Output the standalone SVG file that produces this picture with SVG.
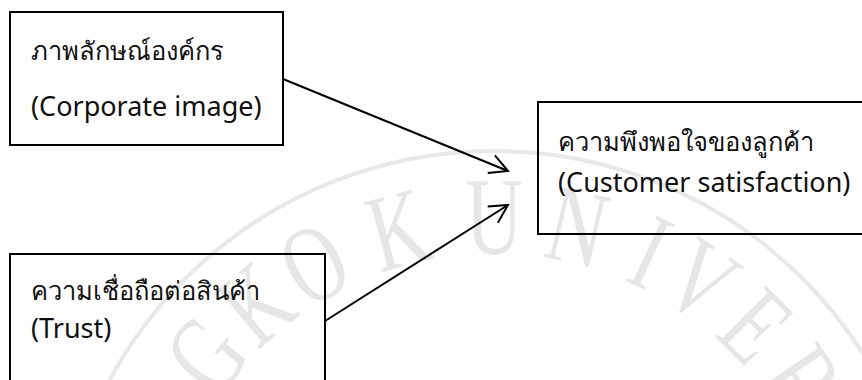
<svg xmlns="http://www.w3.org/2000/svg" width="862" height="380" viewBox="0 0 862 380">
  <style>
    .box { fill: none; stroke: #000; stroke-width: 2; }
    .th { font-family: "Noto Sans", "Open Sans", "DejaVu Sans", sans-serif; font-size: 25.5px; fill: #111; }
    .en { font-family: "Noto Sans", "Open Sans", "DejaVu Sans", sans-serif; font-size: 27px; fill: #111; }
    .wm { font-family: "Liberation Serif", serif; font-size: 110px; fill: #e6e6e6; text-anchor: middle; }
    .conn { fill: none; stroke: #000; stroke-width: 2; }
  </style>
  <defs>
    <marker id="arr" viewBox="-22 -12 24 24" refX="0" refY="0" markerWidth="24" markerHeight="24" markerUnits="userSpaceOnUse" orient="auto">
      <path d="M-18,-9.5 L0,0 L-18,9.5" fill="none" stroke="#000" stroke-width="2"/>
    </marker>
  </defs>
  <rect width="862" height="380" fill="#fff"/>
  <g id="watermark">
    <circle cx="494" cy="588" r="437" fill="none" stroke="#e8e8e8" stroke-width="4"/>
    <g transform="rotate(-51 494 588)"><text class="wm" transform="translate(494 254) scale(0.72 1)">G</text></g>
    <g transform="rotate(-40 494 588)"><text class="wm" transform="translate(494 254) scale(0.72 1)">K</text></g>
    <g transform="rotate(-29 494 588)"><text class="wm" transform="translate(494 254) scale(0.72 1)">O</text></g>
    <g transform="rotate(-15 494 588)"><text class="wm" transform="translate(494 254) scale(0.72 1)">K</text></g>
    <g transform="rotate(0 494 588)"><text class="wm" transform="translate(494 254) scale(0.72 1)">U</text></g>
    <g transform="rotate(13 494 588)"><text class="wm" transform="translate(494 254) scale(0.72 1)">N</text></g>
    <g transform="rotate(25 494 588)"><text class="wm" transform="translate(494 254) scale(0.72 1)">I</text></g>
    <g transform="rotate(34 494 588)"><text class="wm" transform="translate(494 254) scale(0.72 1)">V</text></g>
    <g transform="rotate(45 494 588)"><text class="wm" transform="translate(494 254) scale(0.72 1)">E</text></g>
    <g transform="rotate(56 494 588)"><text class="wm" transform="translate(494 254) scale(0.72 1)">R</text></g>
  </g>
  <g id="corporate-image">
    <rect class="box" x="10" y="12" width="273" height="133"/>
    <text class="th" x="31" y="60">ภาพลักษณ์องค์กร</text>
    <text class="en" x="31" y="116">(Corporate image)</text>
  </g>
  <g id="customer-satisfaction">
    <rect class="box" x="538" y="102" width="340" height="132"/>
    <text class="th" x="558" y="151">ความพึงพอใจของลูกค้า</text>
    <text class="en" x="558" y="192">(Customer satisfaction)</text>
  </g>
  <g id="trust">
    <rect class="box" x="10" y="254" width="315" height="140"/>
    <text class="th" x="31" y="300">ความเชื่อถือต่อสินค้า</text>
    <text class="en" x="31" y="338">(Trust)</text>
  </g>
  <g id="connectors">
    <line class="conn" x1="283" y1="79" x2="508" y2="171" marker-end="url(#arr)"/>
    <line class="conn" x1="325" y1="321" x2="508" y2="205" marker-end="url(#arr)"/>
  </g>
</svg>
